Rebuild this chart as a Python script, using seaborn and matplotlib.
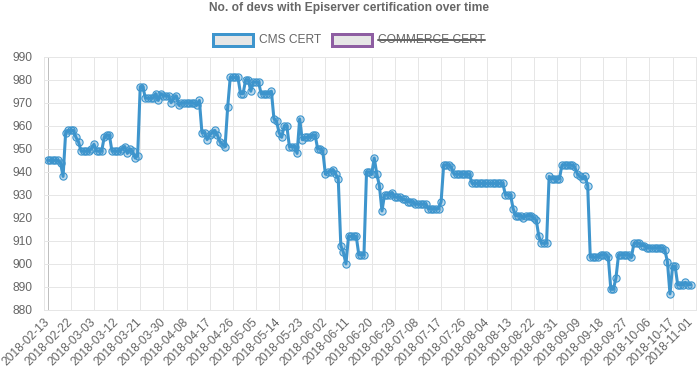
import numpy as np
import pandas as pd
import matplotlib
matplotlib.use("Agg")
import matplotlib.pyplot as plt
import seaborn as sns
from matplotlib.patches import Rectangle
from matplotlib.lines import Line2D
from matplotlib.transforms import ScaledTranslation

title = "No. of devs with Episerver certification over time"
series_names = ["CMS CERT", "COMMERCE CERT"]

# category index of each shown x label (one category per sample day)
tick_index = [0, 9, 18, 27, 36, 45, 54, 63, 72, 81, 90, 99, 108, 117, 126,
              135, 144, 153, 162, 171, 180, 189, 198, 207, 216, 225, 234, 243, 252]
tick_labels = ["2018-02-13", "2018-02-22", "2018-03-03", "2018-03-12", "2018-03-21",
               "2018-03-30", "2018-04-08", "2018-04-17", "2018-04-26", "2018-05-05",
               "2018-05-14", "2018-05-23", "2018-06-02", "2018-06-11", "2018-06-20",
               "2018-06-29", "2018-07-08", "2018-07-17", "2018-07-26", "2018-08-04",
               "2018-08-13", "2018-08-22", "2018-08-31", "2018-09-09", "2018-09-18",
               "2018-09-27", "2018-10-06", "2018-10-17", "2018-11-01"]

# CMS certified devs, one value per sample
cms_cert = [
    945, 945, 945, 945, 945, 944, 938, 957, 958, 958, 958, 955, 953, 949, 949, 949,
    949, 950, 952, 949, 949, 949, 955, 956, 956, 949, 949, 949, 949, 950, 951, 948,
    950, 949, 946, 947, 977, 977, 972, 972, 972, 972, 974, 971, 974, 973, 973, 973,
    970, 972, 973, 969, 970, 970, 970, 970, 970, 970, 969, 971, 957, 957, 954, 956,
    957, 958, 956, 953, 952, 951, 968, 981, 981, 981, 981, 974, 974, 980, 980, 975,
    979, 979, 979, 974, 974, 974, 974, 975, 963, 962, 957, 955, 960, 960, 951, 951,
    951, 948, 963, 954, 955, 955, 955, 956, 956, 950, 950, 949, 939, 940, 940, 941,
    939, 937, 908, 905, 900, 912, 912, 912, 912, 904, 904, 904, 940, 940, 939, 946,
    939, 934, 923, 930, 930, 930, 931, 929, 929, 929, 928, 928, 927, 927, 927, 926,
    926, 926, 926, 926, 924, 924, 924, 924, 924, 927, 943, 943, 943, 942, 939, 939,
    939, 939, 939, 939, 939, 935, 935, 935, 935, 935, 935, 935, 935, 935, 935, 935,
    935, 935, 930, 930, 930, 924, 921, 921, 921, 920, 921, 921, 921, 920, 919, 912,
    909, 909, 909, 938, 937, 937, 937, 937, 943, 943, 943, 943, 943, 942, 939, 938,
    937, 938, 934, 903, 903, 903, 903, 904, 904, 904, 903, 889, 889, 894, 904, 904,
    904, 904, 904, 903, 909, 909, 909, 908, 908, 907, 907, 907, 907, 907, 907, 907,
    906, 901, 887, 899, 899, 891, 891, 891, 892, 891, 891,
]

W, H = 698, 377
BLUE = "#3e95cd"
PURPLE = "#8e5ea2"
TEXT = "#666666"
GRID = "#e6e6e6"
ZERO = "#bfbfbf"
FS = 12 * 0.72  # 12px font

sns.set_style("white")
plt.rcParams["font.family"] = ["Liberation Sans", "DejaVu Sans"]


def fx(px):
    return px / W


def fy(py):
    return 1 - py / H


fig = plt.figure(figsize=(W / 100, H / 100), dpi=100)
ax = fig.add_axes([fx(44.3), fy(310), (695.7 - 44.3) / W, (310 - 56.7) / H])

df = pd.DataFrame({"day": np.arange(len(cms_cert)), "certs": cms_cert})
sns.lineplot(data=df, x="day", y="certs", ax=ax, color=BLUE, linewidth=2.2,
             marker="o", markersize=5.2, markerfacecolor=(0.24, 0.58, 0.80, 0.35),
             markeredgecolor=BLUE, markeredgewidth=0.8)

ax.set_xlim(-1.3, 252)
ax.set_ylim(880, 990)
ax.set_yticks(range(880, 1000, 10))
ax.set_xticks(tick_index)
ax.set_xticklabels(tick_labels, rotation=45, ha="right", va="center",
                   rotation_mode="anchor")
ax.set_xlabel("")
ax.set_ylabel("")
ax.grid(True, color=GRID, linewidth=0.72, alpha=1)
ax.set_axisbelow(True)
ax.get_xgridlines()[0].set_color(ZERO)
ax.tick_params(axis="x", length=5, width=0.72, color=GRID, pad=2.5,
               labelsize=FS, labelcolor=TEXT)
ax.tick_params(axis="y", length=7.2, width=0.72, color=GRID, pad=1,
               labelsize=FS, labelcolor=TEXT)
for s in ax.spines.values():
    s.set_color(GRID)
    s.set_linewidth(0.72)

# last date label is pulled in a little so it stays inside the canvas
last = ax.get_xticklabels()[-1]
last.set_transform(last.get_transform() + ScaledTranslation(-4 / 100, 0, fig.dpi_scale_trans))

fig.text(0.5, fy(8.5), title, ha="center", va="center", fontsize=FS,
         fontweight="bold", color=TEXT)

# legend drawn like the chart library does: 40x12 boxes, hidden series struck out
renderer = fig.canvas.get_renderer()
widths = []
for name in series_names:
    t = fig.text(0, 0, name, fontsize=FS)
    widths.append(t.get_window_extent(renderer).width)
    t.remove()
total = sum(40 + 6 + w for w in widths) + 10 * (len(series_names) - 1)
x0 = (W - total) / 2
box_top = 34
for name, w, col, hidden in zip(series_names, widths, [BLUE, PURPLE], [False, True]):
    fig.patches.append(Rectangle((fx(x0), fy(box_top + 12)), 40 / W, 12 / H,
                                 transform=fig.transFigure, facecolor="#e6e6e6",
                                 edgecolor=col, linewidth=2.16))
    fig.text(fx(x0 + 46), fy(box_top + 6), name, ha="left", va="center",
             fontsize=FS, color=TEXT)
    if hidden:
        fig.lines.append(Line2D([fx(x0 + 46), fx(x0 + 46 + w)],
                                [fy(box_top + 6), fy(box_top + 6)],
                                transform=fig.transFigure, color=TEXT, linewidth=1.44))
    x0 += 40 + 6 + w + 10

fig.savefig("out.png", dpi=100)
